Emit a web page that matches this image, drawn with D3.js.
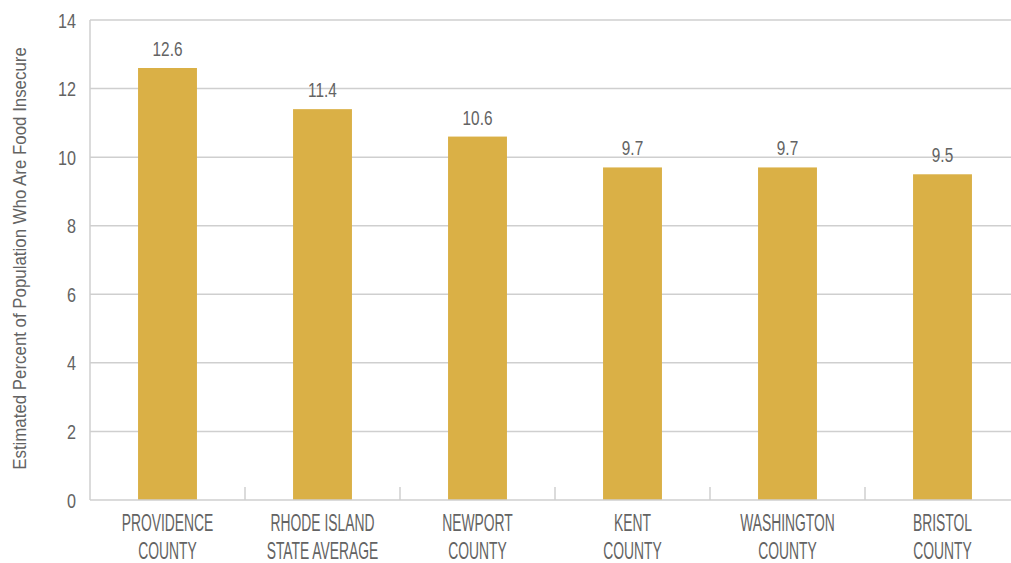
<!DOCTYPE html>
<html><head><meta charset="utf-8">
<script src="https://cdn.jsdelivr.net/npm/d3@7"></script>
<style>
body{margin:0;background:#fff;}
text{font-family:"Liberation Sans",Arial,sans-serif;fill:#636363;}
</style></head><body>
<svg id="c" width="1011" height="563"></svg>
<script>
const categories = [["PROVIDENCE","COUNTY"],["RHODE ISLAND","STATE AVERAGE"],["NEWPORT","COUNTY"],["KENT","COUNTY"],["WASHINGTON","COUNTY"],["BRISTOL","COUNTY"]];
const values = [12.6, 11.4, 10.6, 9.7, 9.7, 9.5];
const yTicks = [0, 2, 4, 6, 8, 10, 12, 14];
const yTitle = "Estimated Percent of Population Who Are Food Insecure";

(function(){
const svg = d3.select("#c");
const mLeft = 90, mRight = 1020, mTop = 20, mBottom = 500;
const numScale = 0.77, catScale = 0.59;
const x = d3.scaleBand().domain(d3.range(categories.length)).range([mLeft, mRight]).paddingInner(0.62).paddingOuter(0.31);
const xb = d3.scaleBand().domain(d3.range(categories.length)).range([mLeft, mRight]);
const y = d3.scaleLinear().domain([0, 14]).range([mBottom, mTop]);

svg.append("g").selectAll("line").data(yTicks.filter(d => d > 0)).join("line")
  .attr("x1", mLeft).attr("x2", 1011).attr("y1", d => y(d)).attr("y2", d => y(d))
  .attr("stroke", "#cfcfcf").attr("stroke-width", 1.5);

svg.append("g").selectAll("rect").data(values).join("rect")
  .attr("x", (d, i) => x(i)).attr("width", x.bandwidth())
  .attr("y", d => y(d)).attr("height", d => y(0) - y(d))
  .attr("fill", "#DAB046");

svg.append("line").attr("x1", mLeft).attr("x2", mLeft).attr("y1", mTop).attr("y2", mBottom).attr("stroke", "#cfcfcf").attr("stroke-width", 1.5);
svg.append("line").attr("x1", mLeft).attr("x2", 1011).attr("y1", mBottom).attr("y2", mBottom).attr("stroke", "#cfcfcf").attr("stroke-width", 1.5);
svg.append("g").selectAll("line").data(d3.range(1, categories.length)).join("line")
  .attr("x1", i => xb(i)).attr("x2", i => xb(i)).attr("y1", mBottom).attr("y2", mBottom - 13)
  .attr("stroke", "#cfcfcf").attr("stroke-width", 1.5);

// y tick labels
svg.append("g").selectAll("text").data(yTicks).join("text")
  .attr("transform", d => `translate(76,${y(d) + 7.5}) scale(${numScale},1)`)
  .attr("text-anchor", "end").attr("font-size", 21).text(d => d);

// value labels
svg.append("g").selectAll("text").data(values).join("text")
  .attr("transform", (d, i) => `translate(${x(i) + x.bandwidth() / 2},${y(d) - 12}) scale(${numScale - 0.02},1)`)
  .attr("text-anchor", "middle").attr("font-size", 20.5).text(d => d.toFixed(1));

// category labels
const cl = svg.append("g").selectAll("text").data(categories).join("text")
  .attr("transform", (d, i) => `translate(${xb(i) + xb.bandwidth() / 2},0) scale(${catScale},1)`)
  .attr("text-anchor", "middle").attr("font-size", 23.5);
cl.selectAll("tspan").data(d => d).join("tspan")
  .attr("x", 0).attr("y", (d, j) => 531 + j * 28).text(d => d);

// y title
const t = svg.append("text").attr("text-anchor", "middle").attr("font-size", 18.5).text(yTitle);
const len = t.node().getComputedTextLength();
t.attr("transform", `translate(25.5,${(47 + 470) / 2}) rotate(-90) scale(${423 / len},1)`);
})();
</script></body></html>
